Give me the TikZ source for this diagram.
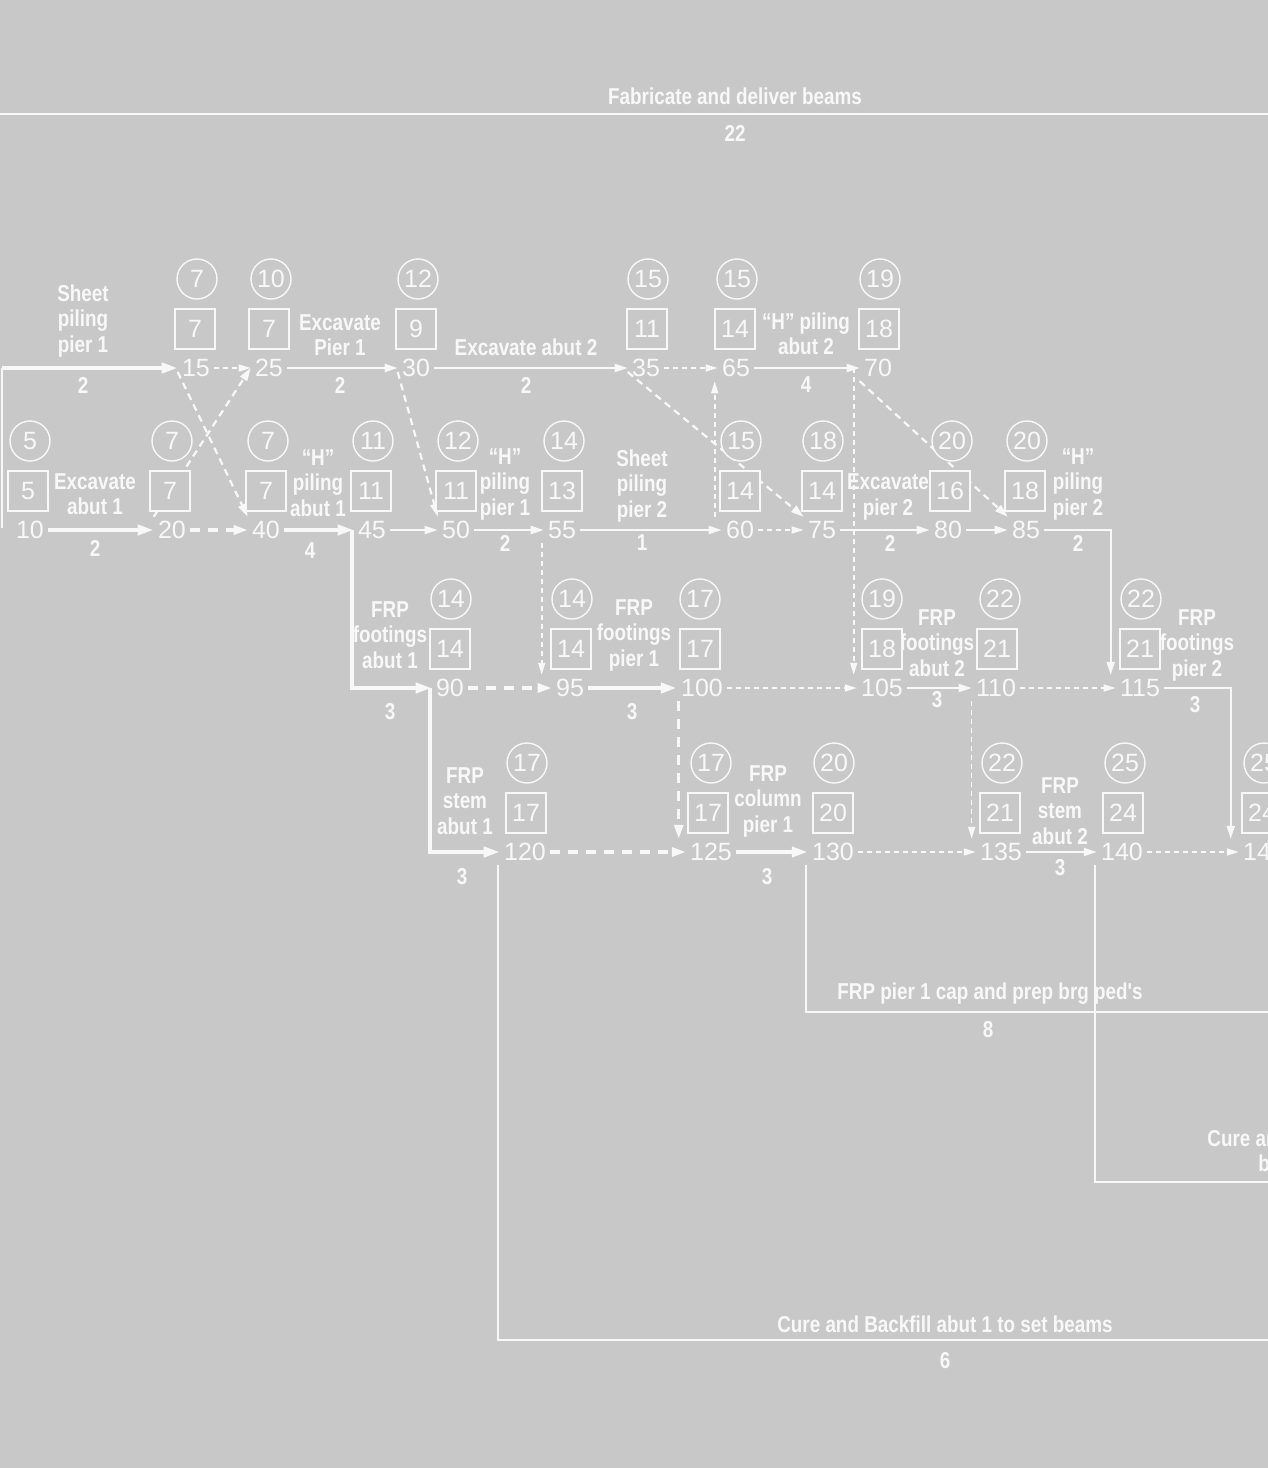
\documentclass[tikz,border=0pt]{standalone}
\usepackage{fontspec}
\setmainfont{Liberation Sans}
\newfontfamily\labfont[FakeStretch=0.82]{Liberation Sans}
\usetikzlibrary{arrows.meta}
\definecolor{bg}{RGB}{200,200,200}
\definecolor{fg}{RGB}{248,248,248}
\begin{document}
\begin{tikzpicture}[x=0.5pt,y=-0.5pt,
 every node/.style={text=fg, font=\fontsize{12.5}{14}\selectfont},
 ev/.style={inner sep=2pt},
 circ/.style={circle, draw=fg, fill=bg, line width=0.7pt, minimum size=20pt, inner sep=0pt},
 sq/.style={rectangle, draw=fg, fill=bg, line width=0.7pt, minimum size=20pt, inner sep=0pt},
 lab/.style={align=center, font=\labfont\bfseries\fontsize{11.5}{12.75}\selectfont, inner sep=0pt},
 dur/.style={font=\labfont\bfseries\fontsize{11.5}{12.75}\selectfont, inner sep=0pt},
 crit/.style={draw=fg, line width=2pt, -{Triangle[length=8pt,width=5pt]}},
 act/.style={draw=fg, line width=1pt, -{Triangle[length=6.5pt,width=4pt]}},
 dumt/.style={draw=fg, line width=1.6pt, dash pattern=on 5pt off 4pt, -{Triangle[length=7pt,width=4.5pt]}},
 dum/.style={draw=fg, line width=0.8pt, dash pattern=on 2.5pt off 2pt, -{Triangle[length=6pt,width=3.5pt]}},
 dumd/.style={draw=fg, line width=1.1pt, dash pattern=on 3.5pt off 2.5pt, -{Triangle[length=6.5pt,width=4pt]}},
 lead/.style={draw=fg, line width=1.2pt},
]
\useasboundingbox (0,0) rectangle (1268,1468);
\clip (0,0) rectangle (1268,1468);
\fill[bg] (0,0) rectangle (1268,1468);

% ---------- events ----------
\node[ev] (e15) at (196,368) {15};
\node[ev] (e25) at (269,368) {25};
\node[ev] (e30) at (416,368) {30};
\node[ev] (e35) at (646,368) {35};
\node[ev] (e65) at (736,368) {65};
\node[ev] (e70) at (878,368) {70};
\node[ev] (e10) at (30,530) {10};
\node[ev] (e20) at (172,530) {20};
\node[ev] (e40) at (266,530) {40};
\node[ev] (e45) at (372,530) {45};
\node[ev] (e50) at (456,530) {50};
\node[ev] (e55) at (562,530) {55};
\node[ev] (e60) at (740,530) {60};
\node[ev] (e75) at (822,530) {75};
\node[ev] (e80) at (948,530) {80};
\node[ev] (e85) at (1026,530) {85};
\node[ev] (e90) at (450,688) {90};
\node[ev] (e95) at (570,688) {95};
\node[ev] (e100) at (702,688) {100};
\node[ev] (e105) at (882,688) {105};
\node[ev] (e110) at (996,688) {110};
\node[ev] (e115) at (1140,688) {115};
\node[ev] (e120) at (525,852) {120};
\node[ev] (e125) at (711,852) {125};
\node[ev] (e130) at (833,852) {130};
\node[ev] (e135) at (1001,852) {135};
\node[ev] (e140) at (1122,852) {140};
\node[ev] (e145) at (1264,852) {145};

% ---------- labels ----------
\node[lab] (lsp1) at (83,321) {Sheet\\piling\\pier 1};
\node[dur] (dsp1) at (83,385) {2};
\node[lab] (lex1) at (95,494) {Excavate\\abut 1};
\node[dur] (dex1) at (95,548) {2};
\node[lab] (lexp1) at (340,335) {Excavate\\Pier 1};
\node[dur] (dexp1) at (340,385) {2};
\node[lab] (lh1) at (318,483) {“H”\\piling\\abut 1};
\node[dur] (dh1) at (310,551) {4};
\node[lab] (lex2) at (526,347) {Excavate abut 2};
\node[dur] (dex2) at (526,385) {2};
\node[lab] (lhp1) at (505,484) {“H”\\piling\\pier 1};
\node[dur] (dhp1) at (505,543) {2};
\node[lab] (lsp2) at (642,486) {Sheet\\piling\\pier 2};
\node[dur] (dsp2) at (642,543) {1};
\node[lab] (lh2) at (806,334) {“H” piling\\abut 2};
\node[dur] (dh2) at (806,385) {4};
\node[lab] (lexp2) at (888,497) {Excavate\\pier 2};
\node[dur] (dexp2) at (890,543) {2};
\node[lab] (lhp2) at (1078,484) {“H”\\piling\\pier 2};
\node[dur] (dhp2) at (1078,543) {2};
\node[lab] (lfa1) at (390,635) {FRP\\footings\\abut 1};
\node[dur] (dfa1) at (390,712) {3};
\node[lab] (lfp1) at (634,635) {FRP\\footings\\pier 1};
\node[dur] (dfp1) at (632,712) {3};
\node[lab] (lfa2) at (937,643) {FRP\\footings\\abut 2};
\node[dur] (dfa2) at (937,700) {3};
\node[lab] (lfp2) at (1197,645) {FRP\\footings\\pier 2};
\node[dur] (dfp2) at (1195,705) {3};
\node[lab] (lsa1) at (465,801) {FRP\\stem\\abut 1};
\node[dur] (dsa1) at (462,877) {3};
\node[lab] (lcp1) at (768,801) {FRP\\column\\pier 1};
\node[dur] (dcp1) at (767,877) {3};
\node[lab] (lsa2) at (1060,811) {FRP\\stem\\abut 2};
\node[dur] (dsa2) at (1060,868) {3};
\node[lab] (lfab) at (735,96) {Fabricate and deliver beams};
\node[dur] (dfab) at (735,133) {22};
\node[lab] (lcap) at (990,994) {FRP pier 1 cap and prep brg ped's};
\node[dur] (dcap) at (988,1030) {8};
\node[lab] (lcure1) at (945,1324) {Cure and Backfill abut 1 to set beams};
\node[dur] (dcure1) at (945,1361) {6};
\node[lab, anchor=west] (lcure2a) at (1207,1138) {Cure and};
\node[lab, anchor=west] (lcure2b) at (1258,1163) {b};

% ---------- free ends / helper coordinates ----------
\coordinate (st1) at (2,368);
\coordinate (st0) at (2,528);
\coordinate (fab0) at (-10,114);
\coordinate (fab1) at (1280,114);
\coordinate (cure1) at (1280,1340);
\coordinate (cap) at (1280,1012);
\coordinate (cure2) at (1280,1182);
\coordinate (v60) at ([xshift=-3.5pt]e60.north west);
\coordinate (v70) at ([xshift=-3pt]e70.west);
\coordinate (v45) at ([xshift=-1pt]e45.west);
\coordinate (v55) at ([xshift=-1pt]e55.south west);
\coordinate (v85) at ([xshift=-2.5pt]e115.north west);
\coordinate (v90) at ([xshift=-1pt]e90.west);
\coordinate (v100) at ([xshift=1pt]e100.south west);
\coordinate (v110) at (e110.south west);
\coordinate (v115) at ([xshift=-4pt]e145.north west);

% ---------- connectors ----------
\draw[lead] (fab0) -- (fab1);
% row 1
\draw[draw=fg, line width=0.8pt] (st0) -- (st1);
\draw[crit] (st1) -- (e15.west);
\draw[dum] (e15.east) -- (e25.west);
\draw[dumd] ([yshift=-2pt]e15.west) -- (e40.north west);
\draw[dumd] (e20.north west) -- (e25.west);
\draw[act] (e25.east) -- (e30.west);
\draw[act] (e30.east) -- (e35.west);
\draw[dumd] ([yshift=-2pt]e30.west) -- (e50.north west);
\draw[dum] (e35.east) -- (e65.west);
\draw[dumd] ([yshift=-2pt]e35.west) -- (e75.north west);
\draw[dum] (v60) -- (v60 |- e65.south);
\draw[act] (e65.east) -- (e70.west);
\draw[dum] (v70) -- (v70 |- e105.north);
\draw[dumd] (e70.south west) -- (e85.north west);
% row 2
\draw[crit] (e10.east) -- (e20.west);
\draw[dumt] (e20.east) -- (e40.west);
\draw[crit] (e40.east) -- (e45.west);
\draw[act] (e45.east) -- (e50.west);
\draw[crit] (v45) |- (e90.west);
\draw[act] (e50.east) -- (e55.west);
\draw[act] (e55.east) -- (e60.west);
\draw[dum] (v55) -- (v55 |- e95.north);
\draw[dum] (e60.east) -- (e75.west);
\draw[act] (e75.east) -- (e80.west);
\draw[act] (e80.east) -- (e85.west);
\draw[act] (e85.east) -| (v85);
% row 3
\draw[dumt] (e90.east) -- (e95.west);
\draw[crit] (v90) |- (e120.west);
\draw[crit] (e95.east) -- (e100.west);
\draw[dumt] (v100) -- (v100 |- e125.north);
\draw[dum] (e100.east) -- (e105.west);
\draw[act] (e105.east) -- (e110.west);
\draw[dum] (e110.east) -- (e115.west);
\draw[dum] (v110) -- (v110 |- e135.north);
\draw[act] (e115.east) -| (v115);
% row 4
\draw[dumt] (e120.east) -- (e125.west);
\draw[crit] (e125.east) -- (e130.west);
\draw[dum] (e130.east) -- (e135.west);
\draw[act] (e135.east) -- (e140.west);
\draw[dum] (e140.east) -- (e145.west);
\draw[lead] ([xshift=-1pt]e120.south west) |- (cure1);
\draw[lead] ([xshift=-1pt]e130.south west) |- (cap);
\draw[lead] ([xshift=-1pt]e140.south west) |- (cure2);

% ---------- early / late time marks ----------
\node[circ] (c15) at (197,279) {7};   \node[sq] (s15) at (195,329) {7};
\node[circ] (c25) at (271,279) {10};  \node[sq] (s25) at (269,329) {7};
\node[circ] (c30) at (418,279) {12};  \node[sq] (s30) at (416,329) {9};
\node[circ] (c35) at (648,279) {15};  \node[sq] (s35) at (647,329) {11};
\node[circ] (c65) at (737,279) {15};  \node[sq] (s65) at (735,329) {14};
\node[circ] (c70) at (880,279) {19};  \node[sq] (s70) at (879,329) {18};
\node[circ] (c10) at (30,441) {5};    \node[sq] (s10) at (28,491) {5};
\node[circ] (c20) at (172,441) {7};   \node[sq] (s20) at (170,491) {7};
\node[circ] (c40) at (268,441) {7};   \node[sq] (s40) at (266,491) {7};
\node[circ] (c45) at (373,441) {11};  \node[sq] (s45) at (371,491) {11};
\node[circ] (c50) at (458,441) {12};  \node[sq] (s50) at (456,491) {11};
\node[circ] (c55) at (564,441) {14};  \node[sq] (s55) at (562,491) {13};
\node[circ] (c60) at (741,441) {15};  \node[sq] (s60) at (740,491) {14};
\node[circ] (c75) at (823,441) {18};  \node[sq] (s75) at (822,491) {14};
\node[circ] (c80) at (952,441) {20};  \node[sq] (s80) at (950,491) {16};
\node[circ] (c85) at (1027,441) {20}; \node[sq] (s85) at (1025,491) {18};
\node[circ] (c90) at (451,599) {14};  \node[sq] (s90) at (450,649) {14};
\node[circ] (c95) at (572,599) {14};  \node[sq] (s95) at (571,649) {14};
\node[circ] (c100) at (700,599) {17}; \node[sq] (s100) at (700,649) {17};
\node[circ] (c105) at (882,599) {19}; \node[sq] (s105) at (882,649) {18};
\node[circ] (c110) at (1000,599) {22};\node[sq] (s110) at (997,649) {21};
\node[circ] (c115) at (1141,599) {22};\node[sq] (s115) at (1140,649) {21};
\node[circ] (c120) at (527,763) {17}; \node[sq] (s120) at (526,813) {17};
\node[circ] (c125) at (711,763) {17}; \node[sq] (s125) at (708,813) {17};
\node[circ] (c130) at (834,763) {20}; \node[sq] (s130) at (833,813) {20};
\node[circ] (c135) at (1002,763) {22};\node[sq] (s135) at (1000,813) {21};
\node[circ] (c140) at (1125,763) {25};\node[sq] (s140) at (1123,813) {24};
\node[circ] (c145) at (1264,763) {25};\node[sq] (s145) at (1262,813) {24};
\end{tikzpicture}
\end{document}
